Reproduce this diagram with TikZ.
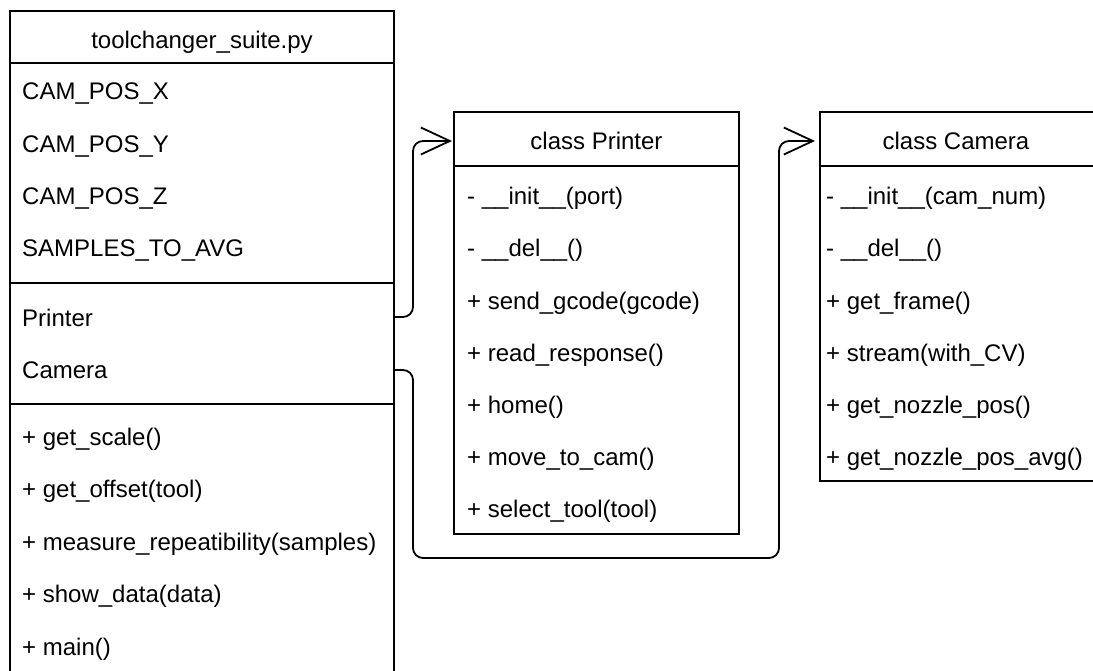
\documentclass[tikz,border=0pt]{standalone}
\usepackage{fontspec}
\setmainfont{Liberation Sans}
\usetikzlibrary{arrows.meta}
\begin{document}
\begin{tikzpicture}[x=1pt,y=-1pt,
  box/.style={draw, line width=1.4pt, anchor=north west, inner sep=0pt, outer sep=0pt},
  sep/.style={line width=1.4pt},
  row/.style={anchor=base west, inner sep=0pt, font=\fontsize{24}{28}\selectfont},
  ttl/.style={anchor=base, inner sep=0pt, font=\fontsize{24}{28}\selectfont},
  link/.style={line width=1.8pt, rounded corners=10pt,
    -{Straight Barb[length=29pt,width=27pt,line width=1.8pt]}}]
\clip (0,0) rectangle (1093,670);
\fill[white] (0,0) rectangle (1093,670);
% main box
\node[box, minimum width=384pt, minimum height=680pt] (main) at (10,11) {};
\draw[sep] (10,63) -- (394,63);
\draw[sep] (10,283) -- (394,283);
\draw[sep] (10,404) -- (394,404);
\node[ttl] (mt) at (202,48) {toolchanger\_suite.py};
\node[row] (mx) at (22,99) {CAM\_POS\_X};
\node[row] (my) at (22,152) {CAM\_POS\_Y};
\node[row] (mz) at (22,204) {CAM\_POS\_Z};
\node[row] (ms) at (22,256) {SAMPLES\_TO\_AVG};
\node[row] (mp) at (22,326) {Printer};
\node[row] (mc) at (22,378) {Camera};
\node[row] (m1) at (22,445) {+ get\_scale()};
\node[row] (m2) at (22,497.5) {+ get\_offset(tool)};
\node[row] (m3) at (22,550) {+ measure\_repeatibility(samples)};
\node[row] (m4) at (22,602.5) {+ show\_data(data)};
\node[row] (m5) at (22,655) {+ main()};
% printer box
\node[box, minimum width=285pt, minimum height=422pt] (printer) at (454,112) {};
\draw[sep] (454,166) -- (739,166);
\node[ttl] (pt) at (596.5,149) {class Printer};
\node[row] (p1) at (467,204) {- \_\_init\_\_(port)};
\node[row] (p2) at (467,256.5) {- \_\_del\_\_()};
\node[row] (p3) at (467,309) {+ send\_gcode(gcode)};
\node[row] (p4) at (467,361.5) {+ read\_response()};
\node[row] (p5) at (467,413) {+ home()};
\node[row] (p6) at (467,465) {+ move\_to\_cam()};
\node[row] (p7) at (467,517) {+ select\_tool(tool)};
% camera box
\node[box, minimum width=290pt, minimum height=369pt] (camera) at (820,112) {};
\draw[sep] (820,166) -- (1100,166);
\node[ttl] (ct) at (956,149) {class Camera};
\node[row] (c1) at (826,204) {- \_\_init\_\_(cam\_num)};
\node[row] (c2) at (826,256.5) {- \_\_del\_\_()};
\node[row] (c3) at (826,309) {+ get\_frame()};
\node[row] (c4) at (826,361.5) {+ stream(with\_CV)};
\node[row] (c5) at (826,413) {+ get\_nozzle\_pos()};
\node[row] (c6) at (826,465) {+ get\_nozzle\_pos\_avg()};
% connectors
\coordinate (pin) at (454,141);
\coordinate (cin) at (820,141);
\draw[link] (main.east |- 0,317) -| (413,141) -- ([xshift=-2pt]pin);
\draw[link] (main.east |- 0,370) -- (413,370) |- (779,558) |- ([xshift=-5pt]cin);
\end{tikzpicture}
\end{document}
